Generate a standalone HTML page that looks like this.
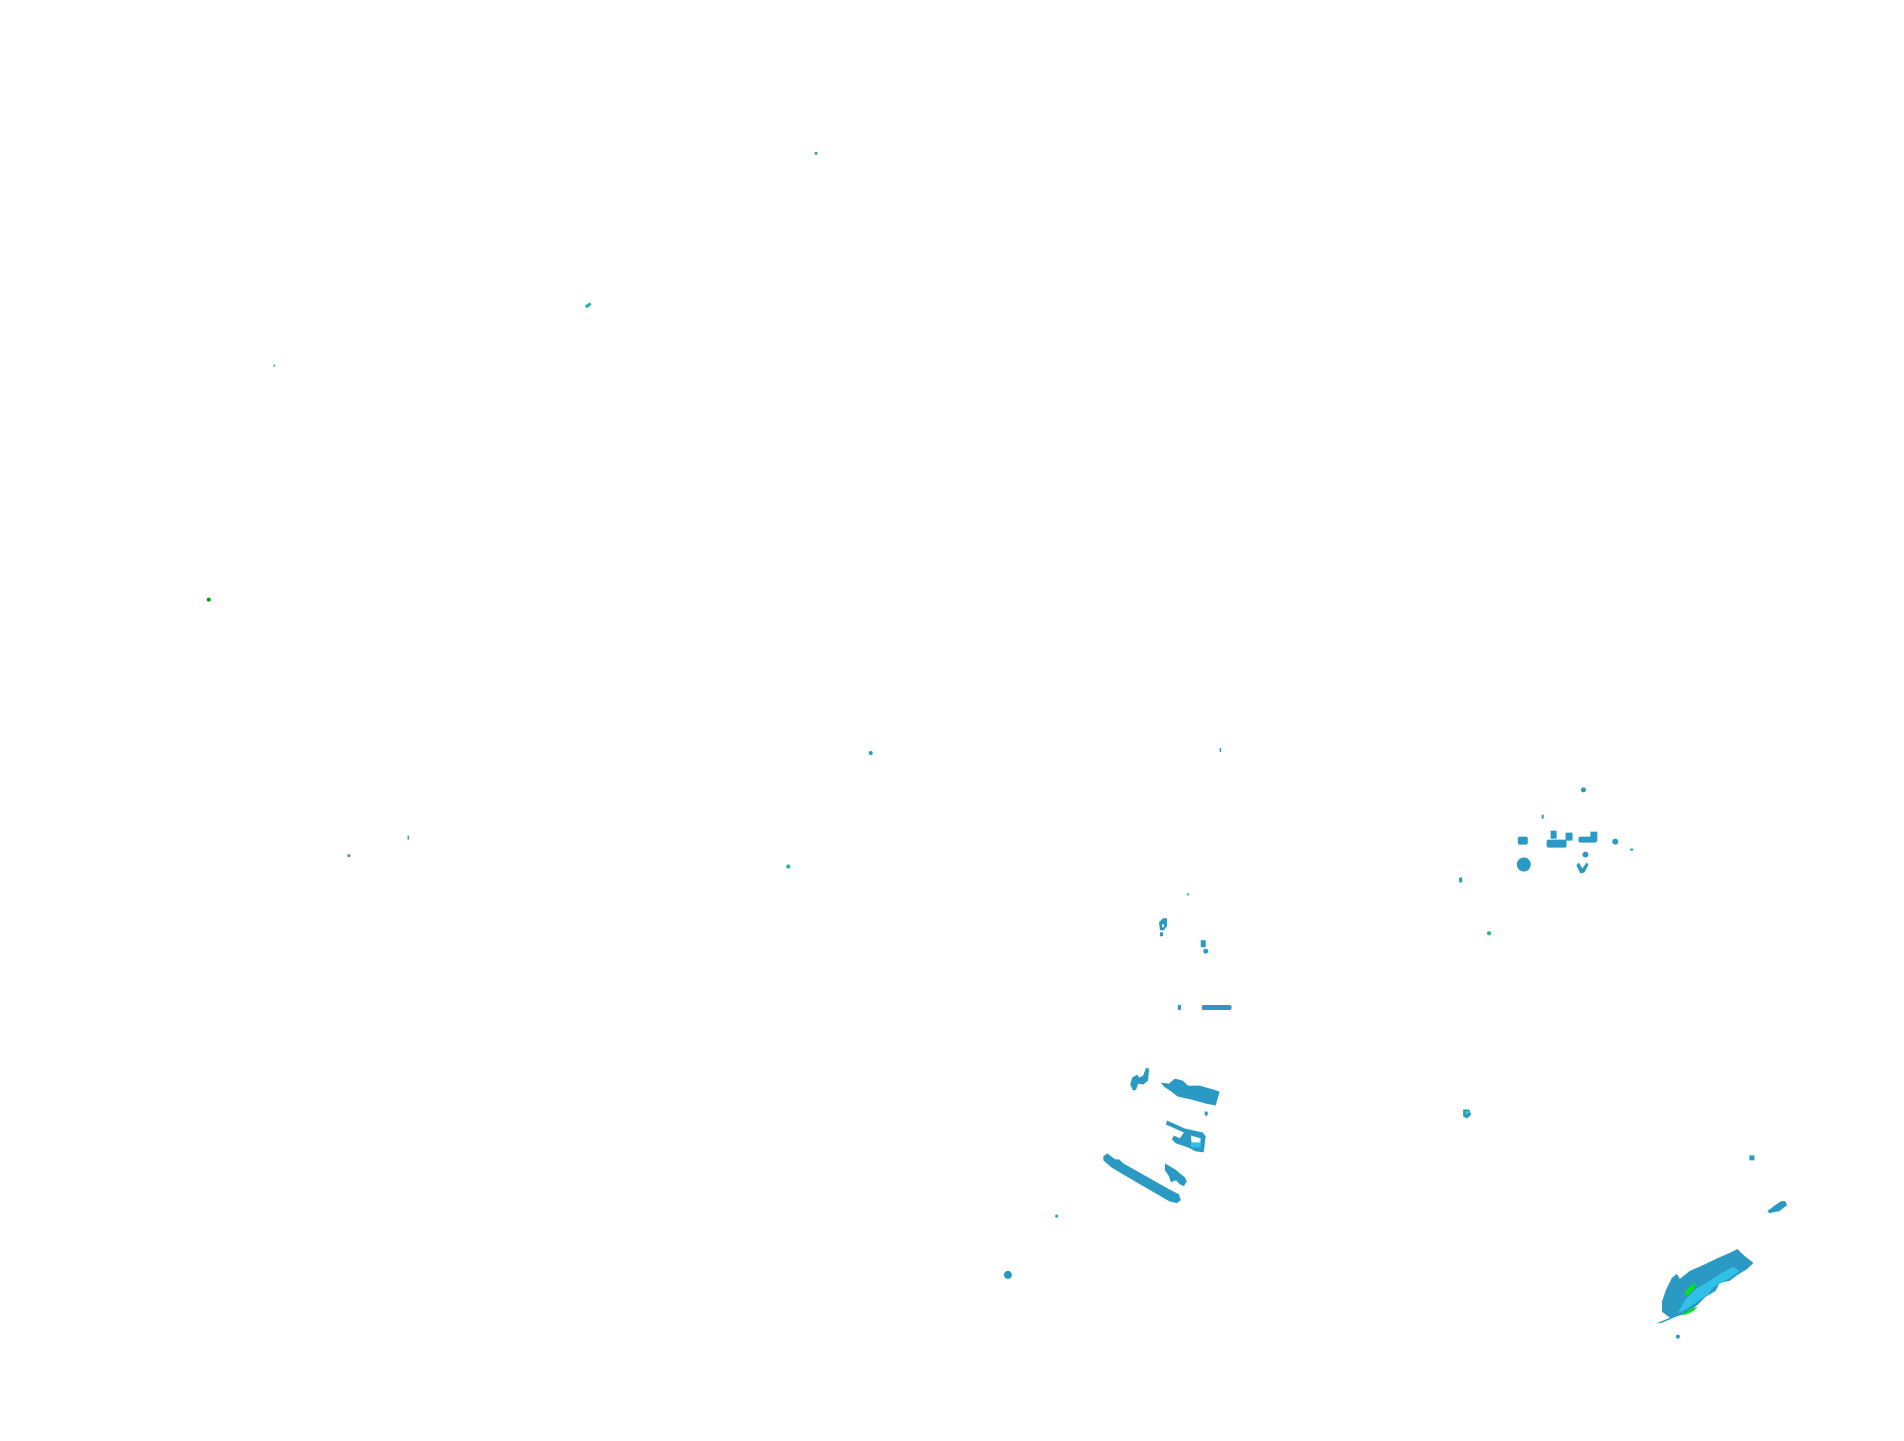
<!DOCTYPE html>
<html><head><meta charset="utf-8"><style>
html,body{margin:0;padding:0;background:#fff;width:1904px;height:1441px;overflow:hidden}
svg{display:block}
</style></head><body>
<svg width="1904" height="1441" viewBox="0 0 1904 1441" xmlns="http://www.w3.org/2000/svg">
<g transform="scale(0.994,0.996)">
<g fill="#2a9ac4">
<circle cx="821" cy="154" r="1.5"/>
<rect x="589" y="305" width="6" height="3" transform="rotate(-35 592 307)" fill="#1fb0a0"/>
<circle cx="276" cy="367" r="1"/>
<circle cx="876" cy="756" r="2"/>
<rect x="1227" y="751" width="1.5" height="4"/>
<circle cx="351" cy="859" r="1.5"/>
<rect x="410" y="839" width="1.5" height="4"/>
<circle cx="1593" cy="793" r="2.5"/>
<circle cx="1533" cy="868" r="7"/>
<rect x="1556" y="843" width="20" height="8" rx="2"/>
<rect x="1527" y="840" width="10" height="8" rx="2"/>
<rect x="1560" y="834" width="6" height="8"/>
<rect x="1575" y="836" width="7" height="8"/>
<rect x="1588" y="840" width="18" height="6" rx="2"/>
<rect x="1600" y="835" width="7" height="10"/>
<circle cx="1625" cy="845" r="3"/>
<circle cx="1595" cy="858" r="3"/>
<path d="M1588 866 l4 6 4-6 2 2-4 8-4 1-4-8z"/>
<rect x="1551" y="818" width="2" height="4"/>
<rect x="1640" y="852" width="3" height="2"/>
<rect x="1468" y="881" width="3" height="5"/>
<circle cx="1498" cy="937" r="2" fill="#10c080"/>
<path d="M1166 926 l4-4 4 0 0 8 -3 4-4 0z M1169 928 l2 0 0 3-2 0z" fill-rule="evenodd"/>
<rect x="1167" y="936" width="3" height="4"/>
<rect x="1208" y="944" width="5" height="7"/>
<circle cx="1213" cy="955" r="2.5"/>
<rect x="1194" y="897" width="2" height="2"/>
<rect x="1209" y="1009" width="30" height="5" rx="2"/>
<rect x="1185" y="1009" width="3" height="5"/>
<path d="M1140 1095 l-3-6 2-7 5-3 2 3 4-2 3-8 3 1 -1 12 -5 4 -5 -1 -2 6z"/>
<path d="M1168 1087 l8 1 6-5 8 2 5 5 12 0 14 4 6 2 -4 14 -10-2 -14-4 -14-3 -8-6 -6-4z"/>
<rect x="1212" y="1116" width="3" height="4"/>
<path d="M1174 1125 l18 8 18 4 3 4 -2 16 -8 -1 -8-4 -12-4 -4-4 2-4 6 3 4-6 -18-8z M1198 1140 l10 3 -1 8 -8-2z" fill-rule="evenodd"/>
<rect x="1198" y="1147" width="10" height="5" fill="#30c0e8"/>
<path d="M1110 1161 l4-3 8 6 4 0 4 4 48 27 8 4 2 6 -4 3 -8-2 -48-28 -10-6 -8-7z"/>
<path d="M1172 1168 l10 6 10 8 2 4 -3 5 -4-2 -4-4 -5 2 -2-6 -4-6z"/>
<circle cx="1063" cy="1221" r="1.5"/>
<circle cx="1014" cy="1280" r="4"/>
<path d="M1472 1114 l6 0 2 5 -4 4 -4-2z"/>
<circle cx="1476" cy="1117" r="1.5" fill="#30e0a0"/>
<rect x="1760" y="1160" width="5" height="5"/>
<path d="M1778 1216 l8-6 6-4 4 0 2 4 -8 6 -10 2z"/>
<circle cx="1688" cy="1342" r="2"/>
<path d="M1666 1329 l14-6 -8-6 0-10 4-12 6-12 5-4 3 5 10-8 14-6 12-6 14-6 8-4 6 6 10 8 -6 6 -10 6 -8 6 -10 2 -4 8 -10 6 -8 8 -10 8 -12 4 -14 6z"/>
</g>
<path d="M1688 1318 l8-14 10-10 14-8 12-8 12-6 6 4 -8 6 -10 6 -8 4 -6 8 -12 8 -12 8z" fill="#30c0e8"/>
<path d="M1694 1300 l6-8 6-4 -2 6 -6 6z" fill="#00ee00"/>
<path d="M1692 1320 l10-6 6-2 -4 4 -8 4z" fill="#00ee00"/>
<circle cx="793" cy="870" r="2" fill="#10c080"/>
<circle cx="210" cy="602" r="2" fill="#00a000"/>
</g>
</svg>
</body></html>
